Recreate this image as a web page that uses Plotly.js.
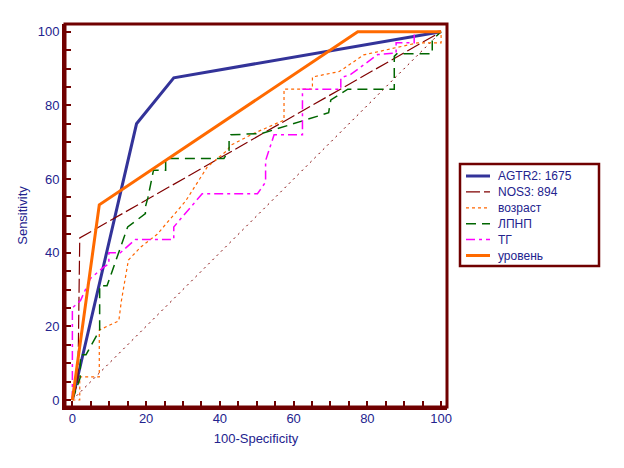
<!DOCTYPE html>
<html>
<head>
<meta charset="utf-8">
<script src="https://cdn.plot.ly/plotly-3.0.1.min.js"></script>
<style>
  body{margin:0;background:#fff;}
  #roc{width:624px;height:468px;}
</style>
</head>
<body>
<div id="roc"></div>
<script>
// ROC curves
var names = ['AGTR2: 1675','NOS3: 894','возраст','ЛПНП','ТГ','уровень'];

var agtr2X = [0, 17.4, 27.5, 100];
var agtr2Y = [0, 75, 87.5, 100];

var nos3X = [0, 1.5, 2, 100];
var nos3Y = [0, 5, 44, 100];

var ageX = [0, 2, 2, 7.3, 7.3, 12.6, 13.3, 15.2, 18.5, 23, 30.7, 36.6, 42, 43, 49, 55, 57.4, 57.4, 65.1, 65.1, 72.4, 79, 87.2, 93.7, 100, 100];
var ageY = [0, 0, 6.3, 6.3, 19, 21.5, 27, 38, 41.5, 45, 54, 63.3, 67.8, 69.2, 72.3, 75, 76, 84.4, 84.4, 87.7, 89.2, 93.7, 95.5, 97, 97, 100];

var ldlX = [0, 2.1, 2.2, 3.7, 7.4, 7.4, 9.4, 15, 19.8, 19.8, 20.5, 22, 25.3, 25.3, 41.1, 42.5, 42.5, 43, 51.5, 69.5, 69.7, 70.1, 74.7, 87.3, 87.3, 88, 97.6, 97.6, 100];
var ldlY = [0, 6, 12.3, 12.3, 19, 31, 31, 47, 50.6, 52.4, 55, 62.4, 62.4, 65.6, 65.6, 67.8, 70.6, 72, 72.4, 78, 79.3, 81.5, 84.4, 84.4, 93.3, 94, 94, 97.8, 100];

var tgX = [0, 0, 2.2, 4.9, 8.4, 9.9, 9.9, 13, 17.1, 27.5, 27.5, 34.8, 35.2, 50.2, 52.4, 52.4, 54.7, 62.4, 62.4, 72.8, 72.8, 75.5, 82.8, 87.8, 87.8, 92.7, 92.7, 100];
var tgY = [0, 25, 27, 33, 36, 37, 40, 40, 43.6, 43.6, 47, 55.6, 56, 56, 59.2, 65, 72, 72, 84.4, 84.4, 87.5, 88.4, 93.8, 94.2, 97, 97, 100, 100];

var levelX = [0, 7.3, 77.4, 100];
var levelY = [0, 53, 100, 100];

var diagX = [0, 100];
var diagY = [0, 100];

// ticks every 5, labels every 20
var tickVals = [0,5,10,15,20,25,30,35,40,45,50,55,60,65,70,75,80,85,90,95,100];
var tickText = tickVals.map(function(v){ return v % 20 === 0 ? String(v) : ''; });

var axisCol = '#700000';
var textCol = '#23238e';
var font = 'Liberation Sans, Arial, sans-serif';

var styles = [
  {color:'#333399', width:3},
  {color:'#800000', width:1.2, dash:'14px,4px'},
  {color:'#ff6600', width:1.2, dash:'3px,3px'},
  {color:'#006600', width:1.5, dash:'10px,6px'},
  {color:'#ff00ff', width:1.5, dash:'9px,4px,3px,4px'},
  {color:'#ff6a00', width:3}
];
var xs = [agtr2X, nos3X, ageX, ldlX, tgX, levelX];
var ys = [agtr2Y, nos3Y, ageY, ldlY, tgY, levelY];

var traces = [
  {x:diagX, y:diagY, mode:'lines', hoverinfo:'skip',
   line:{color:'#800000', width:1, dash:'2px,4px'}}
];
names.forEach(function(n, i){
  traces.push({x:xs[i], y:ys[i], name:n, mode:'lines', line:styles[i]});
});

// legend drawn by hand (plotly rows are too tall), pixel -> paper
var plotL = 65, plotW = 382, plotB = 407, plotH = 383;
function px(v){ return (v - plotL) / plotW; }
function py(v){ return (plotB - v) / plotH; }

var shapes = [
  // plot frame, top and right sides without ticks
  {type:'rect', xref:'paper', yref:'paper', x0:0, x1:1, y0:0, y1:1,
   line:{color:axisCol, width:3}, layer:'above'},
  {type:'rect', xref:'paper', yref:'paper', x0:px(460), x1:px(599), y0:py(164), y1:py(266),
   line:{color:axisCol, width:2.5}, fillcolor:'#fff', layer:'above'}
];
var annotations = [];
names.forEach(function(n, i){
  var yy = py(176 + i*15.9);
  shapes.push({type:'line', xref:'paper', yref:'paper', x0:px(466), x1:px(490), y0:yy, y1:yy,
    line:styles[i], layer:'above'});
  annotations.push({xref:'paper', yref:'paper', x:px(496), y:yy, text:n, showarrow:false,
    xanchor:'left', yanchor:'middle', font:{family:font, size:12, color:textCol}});
});

function axis(title, range){
  return {
    range: range,
    tickmode: 'array', tickvals: tickVals, ticktext: tickText,
    ticks: 'inside', ticklen: 6, tickwidth: 2, tickcolor: axisCol,
    showline: true, linewidth: 3, linecolor: axisCol, mirror: false,
    showgrid: false, zeroline: false, layer: 'above traces',
    tickfont: {family:font, size:13, color:textCol},
    title: {text:title, font:{family:font, size:13, color:textCol}}
  };
}

var xa = axis('100-Specificity', [-2, 101.6]);
xa.ticklabelstandoff = -3;
xa.title.standoff = 10;
var ya = axis('Sensitivity', [-1.9, 102.1]);

var layout = {
  width: 624, height: 468,
  margin: {l:65, r:177, t:24, b:61},
  paper_bgcolor: '#fff', plot_bgcolor: '#fff',
  xaxis: xa,
  yaxis: ya,
  showlegend: false,
  shapes: shapes,
  annotations: annotations
};

Plotly.newPlot('roc', traces, layout, {staticPlot: true});
</script>
</body>
</html>
